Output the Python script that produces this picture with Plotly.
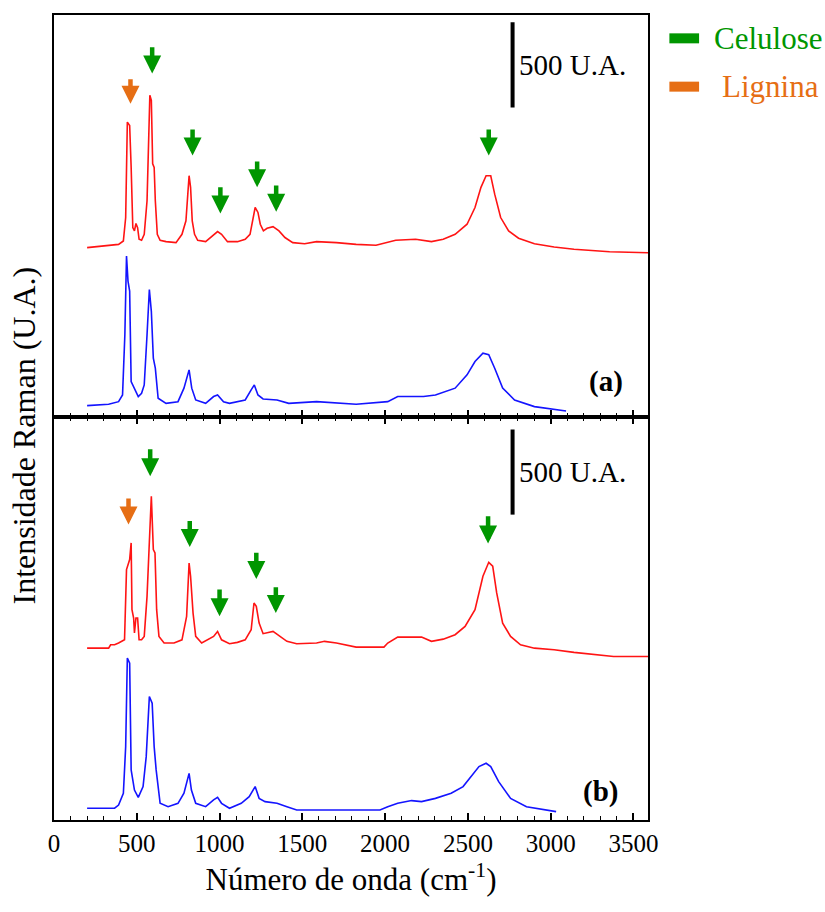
import plotly.graph_objects as go

# ---------------- data (wavenumber cm^-1, intensity U.A.) ----------------
# Panel (a) - top
a_red_x = [200, 294, 390, 419, 433, 443, 457, 466, 476, 486, 495, 505, 514, 529, 545, 562, 572, 579, 588, 596,
           605, 612, 624, 641, 677, 737, 773, 797, 808, 816, 825, 835, 849, 868, 916, 964, 988, 1012, 1048, 1108,
           1155, 1184, 1203, 1215, 1232, 1246, 1265, 1287, 1323, 1359, 1395, 1442, 1514, 1586, 1706, 1825, 1945,
           2016, 2064, 2184, 2280, 2351, 2423, 2495, 2543, 2579, 2610, 2638, 2662, 2698, 2746, 2806, 2902, 3021,
           3141, 3356, 3588]
a_red_y = [990, 1000, 1009, 1029, 1166, 1725, 1705, 1460, 1107, 1088, 1131, 1107, 1039, 1033, 1068, 1264, 1656,
           1882, 1852, 1480, 1460, 1264, 1068, 1033, 1025, 1019, 1068, 1147, 1300, 1411, 1343, 1147, 1068, 1033,
           1025, 1068, 1084, 1068, 1025, 1025, 1039, 1068, 1166, 1225, 1196, 1127, 1088, 1103, 1113, 1088, 1049,
           1019, 1013, 1025, 1019, 1009, 1004, 1019, 1033, 1039, 1025, 1039, 1068, 1127, 1225, 1343, 1411, 1411,
           1303, 1166, 1088, 1045, 1013, 994, 980, 966, 960]

a_blue_x = [200, 330, 390, 414, 428, 438, 447, 457, 466, 486, 509, 529, 545, 562, 576, 588, 600, 612, 629, 677,
            749, 785, 816, 832, 856, 916, 964, 988, 1024, 1060, 1155, 1191, 1210, 1232, 1263, 1347, 1418, 1586,
            1825, 2016, 2076, 2232, 2304, 2423, 2495, 2543, 2591, 2626, 2662, 2710, 2782, 2902, 3021, 3093]
a_blue_y = [65, 73, 88, 127, 480, 941, 794, 735, 206, 167, 118, 137, 186, 480, 745, 617, 343, 284, 108, 78,
            88, 167, 274, 167, 98, 78, 118, 127, 88, 78, 98, 157, 186, 127, 104, 98, 78, 88,
            73, 88, 118, 118, 127, 167, 245, 323, 372, 363, 284, 167, 98, 59, 45, 33]

# Panel (b) - bottom
b_red_x = [200, 330, 342, 366, 390, 426, 438, 457, 466, 471, 481, 486, 495, 505, 514, 529, 545, 562, 574, 588,
           600, 610, 620, 634, 665, 725, 773, 801, 816, 825, 840, 856, 892, 964, 988, 1012, 1060, 1108, 1155,
           1191, 1208, 1222, 1239, 1263, 1323, 1359, 1407, 1466, 1586, 1634, 1706, 1825, 1993, 2016, 2076, 2220,
           2280, 2351, 2423, 2483, 2543, 2591, 2626, 2650, 2674, 2710, 2758, 2818, 2902, 3021, 3141, 3380, 3588]
b_red_y = [1009, 1009, 1029, 1029, 1039, 1058, 1470, 1529, 1627, 1235, 1186, 1098, 1186, 1186, 1058, 1058, 1078,
           1313, 1588, 1901, 1588, 1568, 1235, 1078, 1039, 1039, 1058, 1196, 1509, 1431, 1215, 1078, 1039, 1078,
           1107, 1058, 1035, 1043, 1058, 1117, 1274, 1254, 1156, 1094, 1107, 1082, 1049, 1035, 1039, 1049, 1039,
           1015, 1015, 1039, 1074, 1074, 1049, 1062, 1088, 1137, 1235, 1431, 1513, 1490, 1333, 1156, 1078, 1029,
           1009, 1000, 984, 960, 960]

b_blue_x = [200, 366, 390, 419, 433, 443, 457, 466, 486, 509, 538, 557, 576, 593, 605, 617, 641, 689, 749, 785,
            816, 830, 856, 916, 964, 988, 1012, 1060, 1131, 1179, 1215, 1239, 1275, 1347, 1407, 1466, 1706, 1969,
            2016, 2076, 2160, 2220, 2304, 2399, 2471, 2519, 2567, 2610, 2638, 2686, 2758, 2854, 2973, 3033]
b_blue_y = [69, 69, 88, 157, 431, 951, 921, 294, 176, 133, 196, 372, 725, 686, 431, 294, 98, 78, 98, 157,
            274, 176, 98, 78, 118, 133, 98, 69, 98, 137, 196, 127, 108, 98, 78, 59, 59, 59,
            78, 98, 114, 108, 127, 157, 196, 255, 314, 333, 314, 225, 127, 78, 59, 49]

# Peak markers: (x, tail y, tip y, kind)
a_arrow_x = [462, 593, 837, 1005, 1227, 1342, 2626]
a_arrow_tail = [1985, 2172, 1690, 1352, 1503, 1362, 1690]
a_arrow_tip = [1833, 2009, 1529, 1190, 1343, 1200, 1529]
b_arrow_x = [450, 581, 820, 1000, 1222, 1340, 2622]
b_arrow_tail = [1897, 2185, 1764, 1362, 1578, 1376, 1793]
b_arrow_tip = [1735, 2019, 1603, 1196, 1415, 1215, 1623]
arrow_kind = ["Lignina", "Celulose", "Celulose", "Celulose", "Celulose", "Celulose", "Celulose"]

# Scale bars (500 U.A.)
a_bar_x, a_bar_y = [2770, 2770], [1810, 2310]
b_bar_x, b_bar_y = [2770, 2770], [1793, 2293]

x_ticks = [0, 500, 1000, 1500, 2000, 2500, 3000, 3500]
x_range = [0, 3588]
a_y_range = [0, 2352]
b_y_range = [0, 2368]

GREEN = "rgb(0,150,0)"
ORANGE = "rgb(230,110,20)"
colors = {"Celulose": GREEN, "Lignina": ORANGE}
SERIF = "Liberation Serif"

fig = go.Figure()

# top panel (x2, y2)
fig.add_trace(go.Scatter(x=a_red_x, y=a_red_y, mode="lines", line=dict(color="rgb(255,20,20)", width=1.6),
                         xaxis="x2", yaxis="y2", showlegend=False))
fig.add_trace(go.Scatter(x=a_blue_x, y=a_blue_y, mode="lines", line=dict(color="rgb(20,20,255)", width=1.6),
                         xaxis="x2", yaxis="y2", showlegend=False))
fig.add_trace(go.Scatter(x=a_bar_x, y=a_bar_y, mode="lines", line=dict(color="black", width=4),
                         xaxis="x2", yaxis="y2", showlegend=False))
# bottom panel (x, y)
fig.add_trace(go.Scatter(x=b_red_x, y=b_red_y, mode="lines", line=dict(color="rgb(255,20,20)", width=1.6),
                         xaxis="x", yaxis="y", showlegend=False))
fig.add_trace(go.Scatter(x=b_blue_x, y=b_blue_y, mode="lines", line=dict(color="rgb(20,20,255)", width=1.6),
                         xaxis="x", yaxis="y", showlegend=False))
fig.add_trace(go.Scatter(x=b_bar_x, y=b_bar_y, mode="lines", line=dict(color="black", width=4),
                         xaxis="x", yaxis="y", showlegend=False))

annotations = []
for xs, tails, tips, xr, yr in [(a_arrow_x, a_arrow_tail, a_arrow_tip, "x2", "y2"),
                                (b_arrow_x, b_arrow_tail, b_arrow_tip, "x", "y")]:
    for x, t0, t1, k in zip(xs, tails, tips, arrow_kind):
        annotations.append(dict(x=x, y=t1, ax=x, ay=t0, xref=xr, yref=yr, axref=xr, ayref=yr,
                                showarrow=True, arrowhead=2, arrowsize=0.8, arrowwidth=4.5,
                                arrowcolor=colors[k], text=""))

# scale-bar labels
annotations.append(dict(x=a_bar_x[0], y=sum(a_bar_y) / 2, xref="x2", yref="y2", text="500 U.A.",
                        showarrow=False, xanchor="left", xshift=4, font=dict(family=SERIF, size=29, color="black")))
annotations.append(dict(x=b_bar_x[0], y=sum(b_bar_y) / 2, xref="x", yref="y", text="500 U.A.",
                        showarrow=False, xanchor="left", xshift=4, font=dict(family=SERIF, size=29, color="black")))
# panel labels
annotations.append(dict(x=3332, y=206, xref="x2", yref="y2", text="<b>(a)</b>", showarrow=False,
                        font=dict(family=SERIF, size=29, color="black")))
annotations.append(dict(x=3303, y=167, xref="x", yref="y", text="<b>(b)</b>", showarrow=False,
                        font=dict(family=SERIF, size=29, color="black")))
# y title
annotations.append(dict(x=-0.05, y=0.478, xref="paper", yref="paper", text="Intensidade Raman (U.A.)",
                        textangle=-90, showarrow=False, xanchor="center", yanchor="middle",
                        font=dict(family=SERIF, size=32, color="black")))
# legend
annotations.append(dict(x=1.107, y=0.971, xref="paper", yref="paper", text="Celulose", showarrow=False,
                        xanchor="left", yanchor="middle", font=dict(family=SERIF, size=31, color=GREEN)))
annotations.append(dict(x=1.122, y=0.911, xref="paper", yref="paper", text="Lignina", showarrow=False,
                        xanchor="left", yanchor="middle", font=dict(family=SERIF, size=31, color=ORANGE)))

shapes = [
    dict(type="line", xref="paper", yref="paper", x0=1.036, x1=1.086, y0=0.971, y1=0.971,
         line=dict(color=GREEN, width=10)),
    dict(type="line", xref="paper", yref="paper", x0=1.036, x1=1.086, y0=0.911, y1=0.911,
         line=dict(color=ORANGE, width=10)),
]

axis_common = dict(range=x_range, showgrid=False, zeroline=False, showline=True, linecolor="black",
                   linewidth=2, ticks="inside", ticklen=7, tickwidth=1.5, tickcolor="black",
                   tickvals=x_ticks,
                   minor=dict(dtick=100, tick0=0, ticks="inside", ticklen=4, tickwidth=1.2, tickcolor="black"))

fig.update_layout(
    width=825, height=912,
    margin=dict(l=54, r=177, t=15, b=92),
    plot_bgcolor="white", paper_bgcolor="white",
    showlegend=False,
    xaxis=dict(**axis_common, anchor="y", mirror="ticks", showticklabels=True,
               tickfont=dict(family=SERIF, size=25, color="black"),
               title=dict(text="Número de onda (cm<sup>-1</sup>)", standoff=12,
                          font=dict(family=SERIF, size=31, color="black"))),
    xaxis2=dict(**axis_common, anchor="y2", matches="x", mirror=True, showticklabels=False),
    yaxis=dict(domain=[0, 0.501], range=b_y_range, showgrid=False, zeroline=False, showline=True,
               linecolor="black", linewidth=2, mirror=True, ticks="", showticklabels=False),
    yaxis2=dict(domain=[0.501, 1], range=a_y_range, showgrid=False, zeroline=False, showline=True,
                linecolor="black", linewidth=2, mirror=True, ticks="", showticklabels=False),
    annotations=annotations,
    shapes=shapes,
)

fig.write_html("out.html")
